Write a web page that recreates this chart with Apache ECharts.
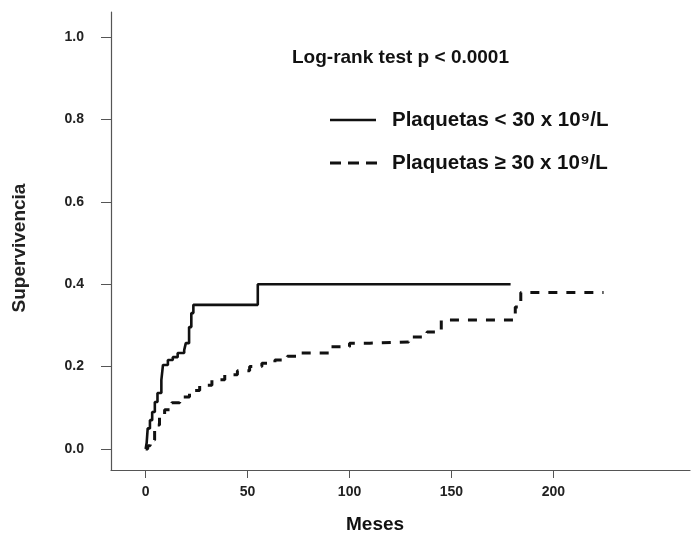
<!DOCTYPE html>
<html>
<head>
<meta charset="utf-8">
<script src="https://cdn.jsdelivr.net/npm/echarts@6/dist/echarts.min.js"></script>
<style>
html,body{margin:0;padding:0;background:#fff;}
#chart{width:696px;height:539px;}
</style>
</head>
<body>
<div id="chart"></div>
<script>
// Plaquetas < 30 x 10^9/L (solid)
const lowMonths = [0, 0.5, 1, 2.1, 3.2, 4.5, 5.8, 7.7, 8.5, 10.9, 13.3, 15.7, 18.9, 19.7, 21.3, 22.4, 23.4, 55, 179];
const lowSurv   = [0.0, 0.015, 0.05, 0.07, 0.09, 0.114, 0.136, 0.167, 0.204, 0.216, 0.223, 0.233, 0.24, 0.257, 0.296, 0.33, 0.35, 0.40, 0.40];
// Plaquetas >= 30 x 10^9/L (dashed)
const highMonths = [0, 1, 2.2, 4.4, 6.8, 9.3, 12.8, 16.7, 21.5, 26.5, 32.5, 38.8, 45, 51, 57, 63.4, 69.5, 75.7, 91, 100, 110, 129, 138, 145, 181.3, 184, 224.6];
const highSurv   = [0.0, 0.008, 0.022, 0.058, 0.078, 0.095, 0.112, 0.126, 0.142, 0.155, 0.168, 0.18, 0.19, 0.2, 0.208, 0.216, 0.225, 0.233, 0.248, 0.257, 0.26, 0.272, 0.284, 0.313, 0.345, 0.38, 0.38];
const xTicks = [0, 50, 100, 150, 200];
const yTicks = [0, 0.2, 0.4, 0.6, 0.8, 1.0];
const seriesNames = ['Plaquetas < 30 x 10⁹/L', 'Plaquetas ≥ 30 x 10⁹/L'];
const pText = 'Log-rank test p < 0.0001';

const FONT = '"Liberation Sans", Arial, sans-serif';
const chart = echarts.init(document.getElementById('chart'));
const zip = (a, b) => a.map((v, i) => [v, b[i]]);

chart.setOption({
  animation: false,
  backgroundColor: '#ffffff',
  grid: { left: 111, right: 6, top: 12, bottom: 69, containLabel: false },
  xAxis: {
    type: 'value', min: -17, max: 267,
    splitLine: { show: false },
    axisLine: { show: true, onZero: false, lineStyle: { color: '#555', width: 1.2 } },
    axisTick: { show: true, length: 8, customValues: xTicks, lineStyle: { color: '#555' } },
    axisLabel: { customValues: xTicks, margin: 15, fontFamily: FONT, fontWeight: 'bold', fontSize: 14, color: '#222' }
  },
  yAxis: {
    type: 'value', min: -0.051, max: 1.061,
    splitLine: { show: false },
    axisLine: { show: true, onZero: false, lineStyle: { color: '#555', width: 1.2 } },
    axisTick: { show: true, length: 10, customValues: yTicks, lineStyle: { color: '#555' } },
    axisLabel: { customValues: yTicks, margin: 27, fontFamily: FONT, fontWeight: 'bold', fontSize: 14, color: '#222',
      formatter: v => v.toFixed(1) }
  },
  series: [
    { name: seriesNames[0], type: 'line', step: 'end', symbol: 'none', data: zip(lowMonths, lowSurv),
      lineStyle: { color: '#111', width: 2.6, type: 'solid' } },
    { name: seriesNames[1], type: 'line', step: 'end', symbol: 'none', data: zip(highMonths, highSurv),
      lineStyle: { color: '#111', width: 3, type: [9, 9] } }
  ],
  graphic: [
    { type: 'text', x: 20, y: 248, rotation: Math.PI / 2,
      style: { text: 'Supervivencia', font: 'bold 19px ' + FONT, fill: '#222', textAlign: 'center', textVerticalAlign: 'middle' } },
    { type: 'text', left: 292, top: 48, style: { text: pText, font: 'bold 19px ' + FONT, fill: '#111' } },
    { type: 'line', shape: { x1: 330, y1: 120, x2: 376, y2: 120 }, style: { stroke: '#111', lineWidth: 2.6 } },
    { type: 'text', left: 392, top: 110, style: { text: seriesNames[0], font: 'bold 20.5px ' + FONT, fill: '#111' } },
    { type: 'line', shape: { x1: 330, y1: 163, x2: 378, y2: 163 }, style: { stroke: '#111', lineWidth: 3, lineDash: [11, 7] } },
    { type: 'text', left: 392, top: 153, style: { text: seriesNames[1], font: 'bold 20.5px ' + FONT, fill: '#111' } },
    { type: 'text', left: 346, top: 515, style: { text: 'Meses', font: 'bold 19px ' + FONT, fill: '#111' } }
  ]
});
</script>
</body>
</html>
